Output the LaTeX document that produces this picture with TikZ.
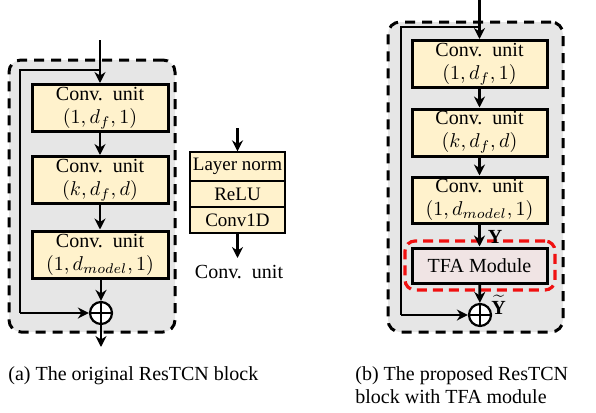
\documentclass[tikz,border=0pt]{standalone}
\usepackage{fontspec}
\setmainfont{Liberation Serif}
\usetikzlibrary{arrows.meta}
\definecolor{beige}{HTML}{FFF2CC}
\definecolor{bggray}{HTML}{E6E6E6}
\definecolor{tfapink}{HTML}{F0E4E4}
\definecolor{redd}{HTML}{F01010}
\begin{document}
\begin{tikzpicture}[x=0.5pt,y=-0.5pt,
  arr/.style={line width=1.4pt,-{Stealth[length=5.5pt,width=5.5pt]}},
  ln/.style={line width=1.4pt},
  unitbox/.style={draw,line width=1.5pt,fill=beige,minimum width=68pt,minimum height=23.5pt,inner sep=0pt,align=center,font=\fontsize{10}{11.5}\selectfont},
  cell/.style={draw,line width=0.6pt,fill=beige,minimum width=47.5pt,inner sep=0pt,font=\fontsize{9.5}{11}\selectfont},
  block/.style={draw,line width=1.5pt,fill=bggray,dash pattern=on 5pt off 3.5pt,rounded corners=6pt,inner sep=0pt},
  sumnode/.style={draw,circle,line width=1.1pt,fill=white,minimum size=11pt,inner sep=0pt,
    path picture={\draw[line width=0.8pt] (path picture bounding box.north) -- (path picture bounding box.south)
      (path picture bounding box.west) -- (path picture bounding box.east);}},
  lbl/.style={font=\fontsize{10}{10.5}\selectfont,inner sep=0pt}]
\useasboundingbox (0,0) rectangle (596,413);

% ---------- panel (a) ----------
\node[block,minimum width=83pt,minimum height=136pt] (ba) at (92,196) {};
\node[unitbox] (a1) at (100,108) {Conv.\ \ unit\\$(1,d_f,1)$};
\node[unitbox] (a2) at (100,180) {Conv.\ \ unit\\$(k,d_f,d)$};
\node[unitbox] (a3) at (100,254.5) {Conv.\ \ unit\\$(1,d_{model},1)$};
\node[sumnode] (pa) at (101,313) {};
\coordinate (ina) at (100,40);
\coordinate (sa) at (100,70);
\coordinate (oa) at (101,347);
\draw[arr] (ina) -- (a1);
\draw[ln] (sa) -- (20,70) -- (20,313);
\draw[arr] (20,313) -- (pa);
\draw[arr] (a1) -- (a2);
\draw[arr] (a2) -- (a3);
\draw[arr] (a3.south -| pa) -- (pa);
\draw[arr] (pa) -- (oa);

% ---------- conv unit detail ----------
\node[cell,minimum height=14.5pt] (c1) at (237.5,166.5) {Layer norm};
\node[cell,minimum height=13pt] (c2) at (237.5,194) {ReLU};
\node[cell,minimum height=13pt] (c3) at (237.5,220) {Conv1D};
\coordinate (cin) at (237.5,128);
\coordinate (cout) at (237.5,258);
\draw[arr] (cin) -- (c1);
\draw[arr] (c3) -- (cout);
\node[lbl] (cl) at (239,272) {Conv.\ \ unit};

% ---------- panel (b) ----------
\node[block,minimum width=87.5pt,minimum height=155pt] (bb) at (475.5,177) {};
\node[unitbox,minimum width=67.5pt] (b1) at (479.5,64) {Conv.\ \ unit\\$(1,d_f,1)$};
\node[unitbox,minimum width=67.5pt] (b2) at (479.5,132.5) {Conv.\ \ unit\\$(k,d_f,d)$};
\node[unitbox,minimum width=67.5pt,minimum height=23pt] (b3) at (479.5,200) {Conv.\ \ unit\\$(1,d_{model},1)$};
\node[draw=redd,line width=1.6pt,dash pattern=on 5pt off 3pt,rounded corners=5pt,minimum width=75pt,minimum height=24.5pt,inner sep=0pt] (rb) at (480,265.5) {};
\node[draw,line width=1.5pt,fill=tfapink,minimum width=67.5pt,minimum height=17.5pt,inner sep=0pt,font=\fontsize{10}{11}\selectfont] (tfa) at (479.5,265.5) {TFA Module};
\node[sumnode] (pb) at (480,315) {};
\coordinate (inb) at (479.5,0);
\coordinate (sb) at (479.5,27);
\coordinate (ob) at (480,347);
\draw[arr] (inb) -- (b1);
\draw[ln] (sb) -- (401,27) -- (401,315);
\draw[arr] (401,315) -- (pb);
\draw[arr] (b1) -- (b2);
\draw[arr] (b2) -- (b3);
\draw[arr] (b3) -- (tfa);
\draw[arr] (tfa) -- (pb);
\node[lbl] (ylab) at (495,237) {\textbf{Y}};
\node[lbl,anchor=west] (yt) at (491,305) {$\widetilde{\mathbf{Y}}$};

% ---------- captions ----------
\node[lbl,anchor=west] (capa) at (8,376) {(a) The original ResTCN block};
\node[lbl,anchor=west] (capb1) at (355,376) {(b) The proposed ResTCN};
\node[lbl,anchor=west] (capb2) at (355,397) {block with TFA module};
\end{tikzpicture}
\end{document}
